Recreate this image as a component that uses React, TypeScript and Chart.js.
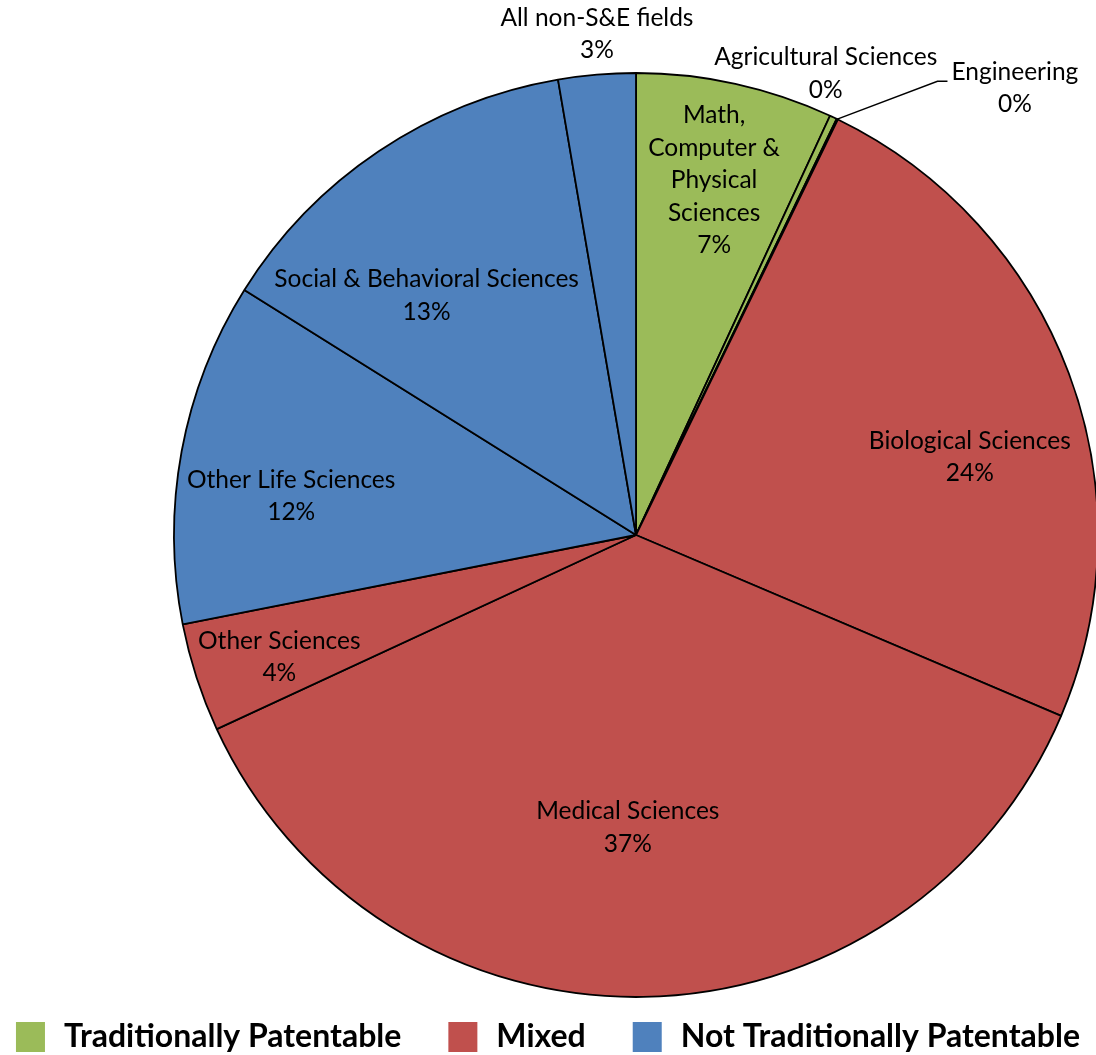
import { useEffect, useRef } from "react";
import { Chart, registerables } from "chart.js";

Chart.register(...registerables);

// Share of the total by field (percent), clockwise from 12 o'clock
const categories = [
  "Math, Computer & Physical Sciences",
  "Agricultural Sciences",
  "Engineering",
  "Biological Sciences",
  "Medical Sciences",
  "Other Sciences",
  "Other Life Sciences",
  "Social & Behavioral Sciences",
  "All non-S&E fields",
];
const shares = [6.9, 0.25, 0.05, 24.2, 36.7, 3.8, 12.0, 13.4, 2.7];
const groupOfField = [0, 0, 0, 1, 1, 1, 2, 2, 2];
const groupNames = ["Traditionally Patentable", "Mixed", "Not Traditionally Patentable"];
const groupColors = ["#9BBB59", "#C0504D", "#4F81BD"];

// Where each data label sits: fraction of the radius, angular nudge from the
// slice's mid-angle (degrees, clockwise), wrap width, and optional leader line.
const labelPlacement = [
  { r: 0.786, nudge: 0, wrap: 150 },
  { r: 1.08, nudge: -2.94, wrap: 600 },
  { r: 1.268, nudge: 14.47, wrap: 600, leader: true },
  { r: 0.742, nudge: 7.37, wrap: 600 },
  { r: 0.634, nudge: 2.5, wrap: 600 },
  { r: 0.816, nudge: -0.9, wrap: 600 },
  { r: 0.751, nudge: -4.04, wrap: 600 },
  { r: 0.688, nudge: -7.36, wrap: 600 },
  { r: 1.088, nudge: 0.41, wrap: 600 },
];

const LABEL_FONT = "24.5px Lato";
const LABEL_LINE = 32.5;
const LEGEND_FONT = "bold 32px Lato";

function wrapText(ctx: CanvasRenderingContext2D, text: string, width: number) {
  const words = text.split(" ");
  const lines: string[] = [];
  let cur = "";
  for (const w of words) {
    const test = cur ? cur + " " + w : w;
    if (cur && ctx.measureText(test).width > width) {
      lines.push(cur);
      cur = w;
    } else {
      cur = test;
    }
  }
  if (cur) lines.push(cur);
  return lines;
}

const sliceLabels = {
  id: "sliceLabels",
  afterDatasetsDraw(chart: any) {
    const ctx: CanvasRenderingContext2D = chart.ctx;
    const meta = chart.getDatasetMeta(0);
    ctx.save();
    ctx.font = LABEL_FONT;
    ctx.fillStyle = "#000";
    ctx.textAlign = "center";
    ctx.textBaseline = "middle";
    meta.data.forEach((arc: any, i: number) => {
      const { x, y, startAngle, endAngle, outerRadius } = arc.getProps(
        ["x", "y", "startAngle", "endAngle", "outerRadius"],
        true
      );
      const p = labelPlacement[i];
      const mid = (startAngle + endAngle) / 2;
      const ang = mid + (p.nudge * Math.PI) / 180;
      const cx = x + Math.cos(ang) * outerRadius * p.r;
      const cy = y + Math.sin(ang) * outerRadius * p.r;
      const lines = [...wrapText(ctx, categories[i], p.wrap), `${Math.round(shares[i])}%`];
      const top = cy - ((lines.length - 1) * LABEL_LINE) / 2;
      lines.forEach((ln, k) => ctx.fillText(ln, cx, top + k * LABEL_LINE));
      if (p.leader) {
        const left = cx - ctx.measureText(lines[0]).width / 2;
        const ly = cy - 7;
        ctx.beginPath();
        ctx.strokeStyle = "#000";
        ctx.lineWidth = 1.5;
        ctx.moveTo(x + Math.cos(mid) * outerRadius, y + Math.sin(mid) * outerRadius);
        ctx.lineTo(left - 14, ly);
        ctx.lineTo(left - 4, ly);
        ctx.stroke();
      }
    });
    ctx.restore();
  },
};

const groupLegend = {
  id: "groupLegend",
  afterDraw(chart: any) {
    const ctx: CanvasRenderingContext2D = chart.ctx;
    const boxW = 29;
    const boxH = 30;
    const textGap = 19;
    const itemGap = 47;
    const boxTop = 1022;
    ctx.save();
    ctx.font = LEGEND_FONT;
    const widths = groupNames.map((n) => boxW + textGap + ctx.measureText(n).width);
    const total = widths.reduce((a, b) => a + b, 0) + itemGap * (groupNames.length - 1);
    let x = (chart.width - total) / 2;
    groupNames.forEach((name, i) => {
      ctx.fillStyle = groupColors[i];
      ctx.fillRect(x, boxTop, boxW, boxH);
      ctx.fillStyle = "#000";
      ctx.textAlign = "left";
      ctx.textBaseline = "alphabetic";
      ctx.fillText(name, x + boxW + textGap, boxTop + 25);
      x += widths[i] + itemGap;
    });
    ctx.restore();
  },
};

export default function App() {
  const canvasRef = useRef<HTMLCanvasElement | null>(null);

  useEffect(() => {
    document.body.style.margin = "0";
    const canvas = canvasRef.current;
    if (!canvas) return;
    const chart = new Chart(canvas, {
      type: "pie",
      data: {
        labels: categories,
        datasets: [
          {
            data: shares,
            backgroundColor: groupOfField.map((g) => groupColors[g]),
            borderColor: "#000",
            borderWidth: 1.8,
            clip: false as any,
          },
        ],
      },
      options: {
        responsive: false,
        animation: false,
        radius: 462,
        layout: { padding: { left: 176, right: 0, top: 73, bottom: 58 } },
        plugins: {
          legend: { display: false },
          tooltip: { enabled: false },
        },
      } as any,
      plugins: [sliceLabels, groupLegend],
    });
    return () => chart.destroy();
  }, []);

  return (
    <div style={{ width: 1096, height: 1055, overflow: "hidden", background: "#fff" }}>
      <canvas ref={canvasRef} width={1096} height={1055} style={{ display: "block" }} />
    </div>
  );
}
